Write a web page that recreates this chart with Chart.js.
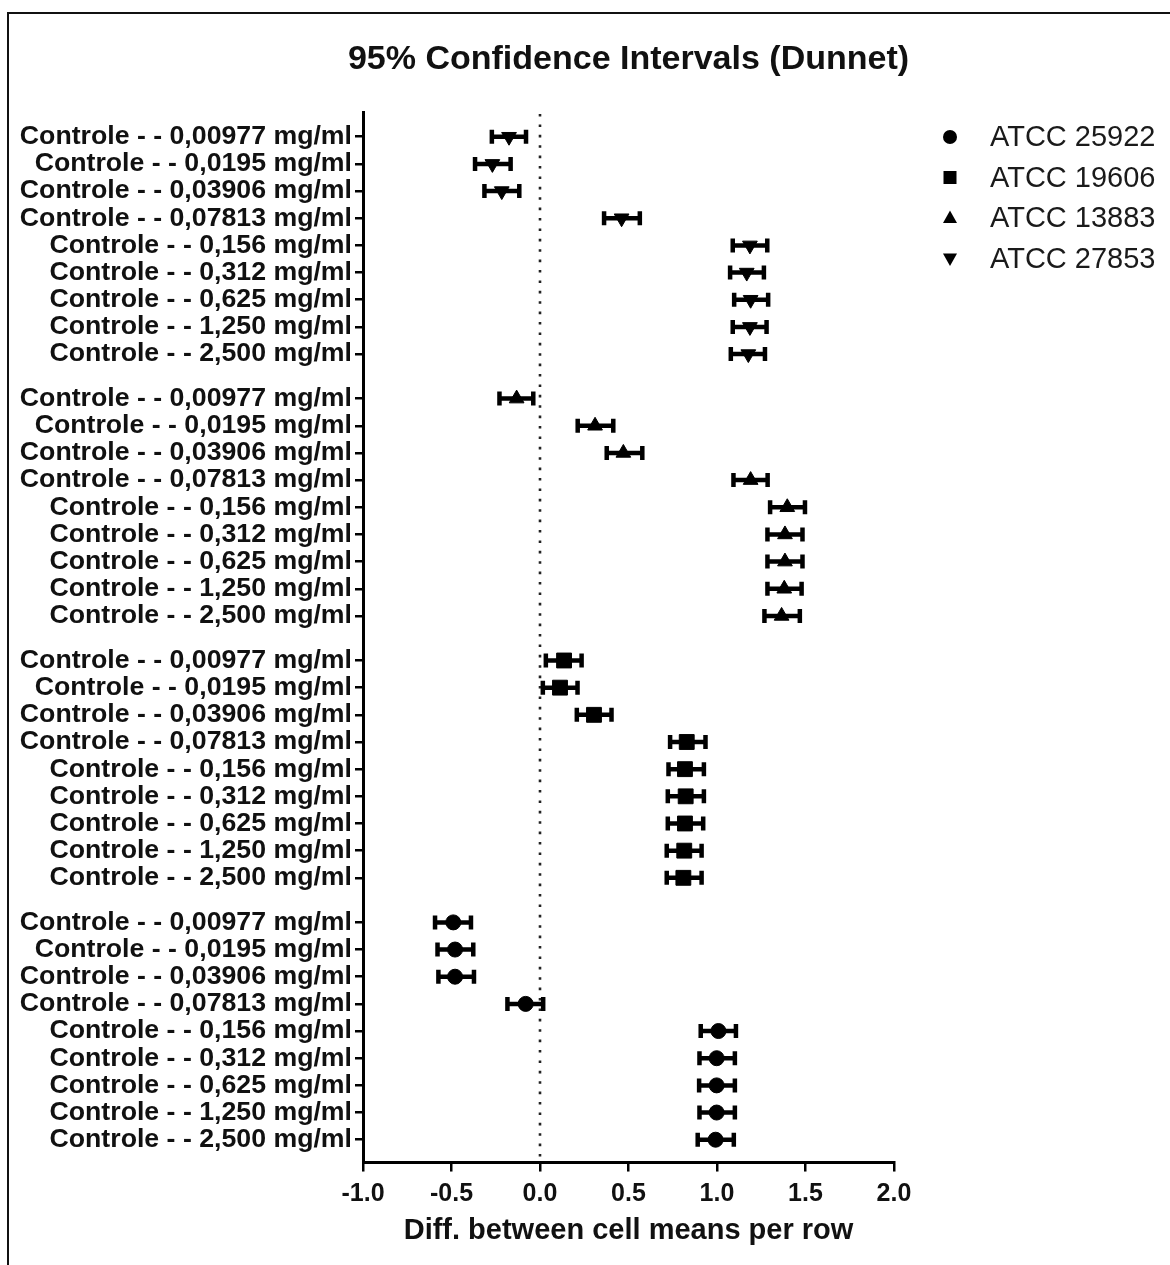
<!DOCTYPE html>
<html>
<head>
<meta charset="utf-8">
<title>95% Confidence Intervals (Dunnet)</title>
<script src="https://cdn.jsdelivr.net/npm/chart.js@4.4.1/dist/chart.umd.min.js"></script>
<style>
  html, body { margin: 0; padding: 0; background: #ffffff; }
  #wrap { width: 1170px; height: 1265px; position: relative; }
  canvas { display: block; }
</style>
</head>
<body>
<div id="wrap"><canvas id="chart" width="1170" height="1265"></canvas></div>
<script>
// Comparisons against the control, same list for every strain
const rowLabels = [
  'Controle - - 0,00977 mg/ml',
  'Controle - - 0,0195 mg/ml',
  'Controle - - 0,03906 mg/ml',
  'Controle - - 0,07813 mg/ml',
  'Controle - - 0,156 mg/ml',
  'Controle - - 0,312 mg/ml',
  'Controle - - 0,625 mg/ml',
  'Controle - - 1,250 mg/ml',
  'Controle - - 2,500 mg/ml'
];

// Strains, in legend order
const strains = ['ATCC 25922', 'ATCC 19606', 'ATCC 13883', 'ATCC 27853'];

// Mean differences and 95% CI limits (Dunnett) per strain
const mean25922 = [-0.490, -0.480, -0.480, -0.081, 1.008, 0.998, 0.998, 0.998, 0.992];
const low25922  = [-0.593, -0.579, -0.574, -0.184, 0.908, 0.901, 0.899, 0.901, 0.891];
const high25922 = [-0.390, -0.377, -0.373, 0.018, 1.107, 1.101, 1.101, 1.101, 1.095];

const mean19606 = [0.136, 0.113, 0.305, 0.829, 0.819, 0.823, 0.819, 0.815, 0.810];
const low19606  = [0.033, 0.016, 0.208, 0.735, 0.726, 0.722, 0.722, 0.716, 0.716];
const high19606 = [0.235, 0.212, 0.404, 0.935, 0.926, 0.926, 0.922, 0.913, 0.913];

const mean13883 = [-0.132, 0.311, 0.471, 1.190, 1.397, 1.384, 1.384, 1.380, 1.365];
const low13883  = [-0.229, 0.213, 0.377, 1.093, 1.300, 1.285, 1.285, 1.285, 1.268];
const high13883 = [-0.038, 0.414, 0.578, 1.286, 1.497, 1.483, 1.483, 1.478, 1.468];

const mean27853 = [-0.175, -0.269, -0.216, 0.461, 1.186, 1.168, 1.190, 1.186, 1.177];
const low27853  = [-0.272, -0.367, -0.314, 0.362, 1.089, 1.074, 1.097, 1.089, 1.078];
const high27853 = [-0.079, -0.166, -0.117, 0.564, 1.284, 1.265, 1.289, 1.280, 1.271];

// x axis ticks
const xTicks = [-1.0, -0.5, 0.0, 0.5, 1.0, 1.5, 2.0];

const means = [mean25922, mean19606, mean13883, mean27853];
const lows  = [low25922, low19606, low13883, low27853];
const highs = [high25922, high19606, high13883, high27853];
const markerStyles = [
  { style: 'circle',   radius: 7.5, rotation: 0 },
  { style: 'rect',     radius: 10.5, rotation: 0 },
  { style: 'triangle', radius: 8.5, rotation: 0 },
  { style: 'triangle', radius: 8.5, rotation: 180 }
];

// Vertical layout: strain blocks stacked top-down, a wider gap between blocks
const GROUP_STEP = 9.64;
const nGroups = strains.length;
const slotOf = i => nGroups - 1 - i;          // first legend entry sits at the bottom
const rowPos = (i, r) => slotOf(i) * GROUP_STEP + r;

// y ticks (one per row) and their labels, in ascending position order
const yTickPositions = [];
const yTickLabels = [];
for (let s = 0; s < nGroups; s++) {
  rowLabels.forEach((lab, r) => {
    yTickPositions.push(s * GROUP_STEP + r);
    yTickLabels.push(lab);
  });
}

const FONT = "'Liberation Sans', Arial, Helvetica, sans-serif";
const INK = '#000000';

const datasets = strains.map((name, i) => ({
  label: name,
  data: rowLabels.map((_, r) => ({ x: means[i][r], y: rowPos(i, r) })),
  pointStyle: markerStyles[i].style,
  pointRadius: markerStyles[i].radius,
  pointRotation: markerStyles[i].rotation,
  pointBackgroundColor: INK,
  pointBorderColor: INK,
  pointBorderWidth: 1,
  pointHoverRadius: markerStyles[i].radius,
  showLine: false,
  lows: lows[i],
  highs: highs[i]
}));

// White page with the frame on the top and left edges
const pagePlugin = {
  id: 'page',
  beforeDraw(chart) {
    const { ctx, width, height } = chart;
    ctx.save();
    ctx.fillStyle = '#ffffff';
    ctx.fillRect(0, 0, width, height);
    ctx.strokeStyle = '#111111';
    ctx.lineWidth = 2;
    ctx.beginPath();
    ctx.moveTo(8, height);
    ctx.lineTo(8, 13);
    ctx.lineTo(width, 13);
    ctx.stroke();
    ctx.restore();
  }
};

// Dotted reference line at zero difference, then the CI whiskers with caps
const intervalPlugin = {
  id: 'intervals',
  beforeDatasetsDraw(chart) {
    const { ctx, chartArea, scales } = chart;
    const x0 = scales.x.getPixelForValue(0);
    ctx.save();
    ctx.strokeStyle = '#222222';
    ctx.lineWidth = 2.6;
    ctx.setLineDash([2.6, 7.8]);
    ctx.beginPath();
    ctx.moveTo(x0, chartArea.top + 2);
    ctx.lineTo(x0, chartArea.bottom);
    ctx.stroke();
    ctx.setLineDash([]);

    ctx.strokeStyle = INK;
    ctx.lineWidth = 4.5;
    ctx.lineCap = 'butt';
    chart.data.datasets.forEach((ds, i) => {
      const meta = chart.getDatasetMeta(i);
      meta.data.forEach((pt, r) => {
        const y = pt.y;
        const xl = scales.x.getPixelForValue(ds.lows[r]);
        const xh = scales.x.getPixelForValue(ds.highs[r]);
        ctx.beginPath();
        ctx.moveTo(xl, y);
        ctx.lineTo(xh, y);
        ctx.moveTo(xl, y - 7);
        ctx.lineTo(xl, y + 7);
        ctx.moveTo(xh, y - 7);
        ctx.lineTo(xh, y + 7);
        ctx.stroke();
      });
    });
    ctx.restore();
  }
};

function drawMarker(ctx, style, x, y, size, rotation) {
  ctx.save();
  ctx.translate(x, y);
  ctx.rotate(rotation * Math.PI / 180);
  ctx.beginPath();
  if (style === 'circle') {
    ctx.arc(0, 0, size / 2, 0, Math.PI * 2);
  } else if (style === 'rect') {
    ctx.rect(-size / 2, -size / 2, size, size);
  } else {
    const h = size * 0.9;
    ctx.moveTo(0, -h * 0.6);
    ctx.lineTo(size / 2, h * 0.4);
    ctx.lineTo(-size / 2, h * 0.4);
    ctx.closePath();
  }
  ctx.fill();
  ctx.restore();
}

// Title over the plot area and the marker legend on the right
const decorPlugin = {
  id: 'decor',
  afterDraw(chart) {
    const { ctx, chartArea } = chart;
    ctx.save();
    ctx.fillStyle = '#111111';
    ctx.font = `bold 34px ${FONT}`;
    ctx.textAlign = 'center';
    ctx.textBaseline = 'middle';
    ctx.fillText('95% Confidence Intervals (Dunnet)', (chartArea.left + chartArea.right) / 2, 60);

    const legendX = 950, legendY = 137, legendStep = 40.5;
    ctx.font = `29px ${FONT}`;
    ctx.textAlign = 'left';
    chart.data.datasets.forEach((ds, i) => {
      const y = legendY + i * legendStep;
      ctx.fillStyle = INK;
      drawMarker(ctx, ds.pointStyle, legendX, y, ds.pointStyle === 'rect' ? 13 : 14, ds.pointRotation);
      ctx.fillStyle = '#1a1a1a';
      ctx.fillText(ds.label, 990, y + 1);
    });
    ctx.restore();
  }
};

new Chart(document.getElementById('chart'), {
  type: 'scatter',
  data: { datasets },
  plugins: [pagePlugin, intervalPlugin, decorPlugin],
  options: {
    responsive: false,
    animation: false,
    devicePixelRatio: 1,
    layout: { padding: { top: 112, right: 276, bottom: 20.5, left: 0 } },
    plugins: {
      legend: { display: false },
      title: { display: false },
      tooltip: { enabled: false }
    },
    scales: {
      x: {
        type: 'linear',
        min: xTicks[0],
        max: xTicks[xTicks.length - 1],
        afterBuildTicks(axis) {
          axis.ticks = xTicks.map(v => ({ value: v }));
        },
        ticks: {
          autoSkip: false,
          maxRotation: 0,
          padding: 8,
          color: '#111111',
          font: { family: FONT, size: 25, weight: 'bold' },
          callback: v => Number(v).toFixed(1)
        },
        grid: {
          drawOnChartArea: false,
          drawTicks: true,
          tickLength: 9,
          lineWidth: 2.5,
          color: INK
        },
        border: { display: true, color: INK, width: 3 },
        title: {
          display: true,
          text: 'Diff. between cell means per row',
          color: '#111111',
          font: { family: FONT, size: 29, weight: 'bold', lineHeight: 0.93 },
          padding: { top: 0, bottom: 0 }
        }
      },
      y: {
        type: 'linear',
        reverse: true,
        min: -0.91,
        max: (nGroups - 1) * GROUP_STEP + rowLabels.length - 1 + 0.84,
        afterBuildTicks(axis) {
          axis.ticks = yTickPositions.map(v => ({ value: v }));
        },
        afterFit(axis) {
          axis.width = 363;
        },
        ticks: {
          autoSkip: false,
          padding: 3,
          color: '#111111',
          font: { family: FONT, size: 26.7, weight: 'bold' },
          callback: (v, idx) => yTickLabels[idx]
        },
        grid: {
          drawOnChartArea: false,
          drawTicks: true,
          tickLength: 8,
          lineWidth: 2.5,
          color: INK
        },
        border: { display: true, color: INK, width: 3 }
      }
    }
  }
});
</script>
</body>
</html>
